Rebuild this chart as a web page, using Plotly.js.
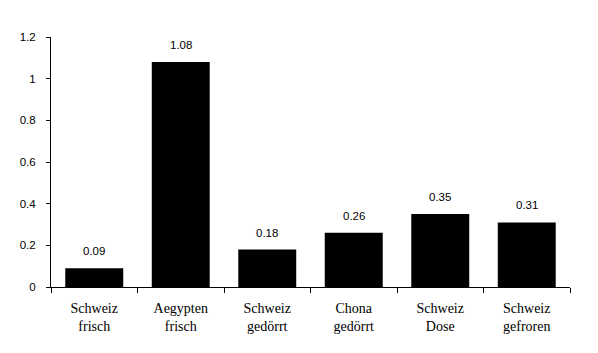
<!DOCTYPE html>
<html><head><meta charset="utf-8">
<script src="https://cdn.plot.ly/plotly-3.0.1.min.js"></script>
<style>html,body{margin:0;padding:0;background:#fff}#c{width:598px;height:353px}</style>
</head><body><div id="c"></div>
<script>
const categories = ["Schweiz<br>frisch","Aegypten<br>frisch","Schweiz<br>gedörrt","Chona<br>gedörrt","Schweiz<br>Dose","Schweiz<br>gefroren"];
const values = [0.09, 1.08, 0.18, 0.26, 0.35, 0.31];
const valueLabels = ["0.09","1.08","0.18","0.26","0.35","0.31"];
const yTicks = [0, 0.2, 0.4, 0.6, 0.8, 1, 1.2];
const yTickText = ["0","0.2","0.4","0.6","0.8","1","1.2"];

const sans = "Liberation Sans, Arial, sans-serif";
const serif = "Liberation Serif, Times New Roman, serif";

const data = [{
  type: "bar", x: categories, y: values,
  marker: {color: "#000", line: {width: 0}},
  hoverinfo: "none"
}];
const annotations = categories.map((c, i) => ({
  x: c, y: values[i], xref: "x", yref: "y", text: valueLabels[i],
  showarrow: false, yanchor: "bottom", yshift: 9,
  font: {family: sans, size: 11.5, color: "#000"}
}));
const layout = {
  width: 598, height: 353,
  margin: {l: 51, r: 27.5, t: 36.7, b: 65.7, pad: 0},
  paper_bgcolor: "#fff", plot_bgcolor: "#fff",
  showlegend: false, bargap: 0.33,
  xaxis: {
    type: "category", tickson: "boundaries", ticks: "outside", ticklen: 5,
    tickcolor: "#000", tickwidth: 1, showline: true, linecolor: "#000", linewidth: 1,
    showgrid: false, zeroline: false, ticklabelstandoff: 8,
    tickfont: {family: serif, size: 14, color: "#000"}
  },
  yaxis: {
    range: [0, 1.2], tickvals: yTicks, ticktext: yTickText,
    ticks: "outside", ticklen: 4, tickcolor: "#000", tickwidth: 1,
    showline: true, linecolor: "#000", linewidth: 1, showgrid: false, zeroline: false,
    ticklabelstandoff: 8,
    tickfont: {family: sans, size: 11.5, color: "#000"}
  },
  yaxis2: {
    overlaying: "y", side: "left", range: [0, 1.2], tickvals: yTicks,
    ticks: "inside", ticklen: 3, tickcolor: "#000", tickwidth: 1,
    showticklabels: false, showline: false, showgrid: false, zeroline: false
  },
  annotations: annotations
};
Plotly.newPlot("c", data, layout, {staticPlot: true, displayModeBar: false});
</script></body></html>
